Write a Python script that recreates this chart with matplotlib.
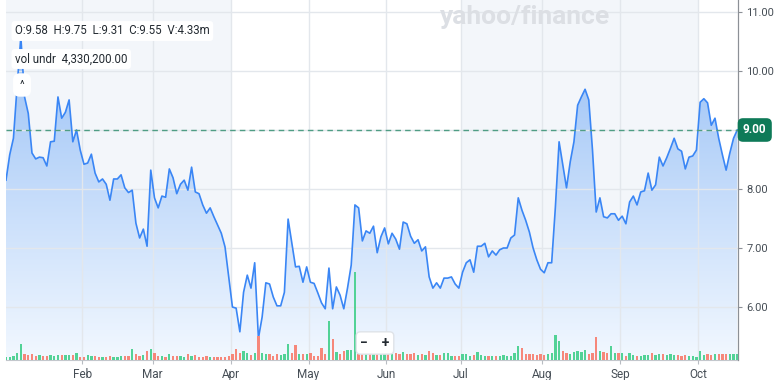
import numpy as np
import matplotlib.pyplot as plt
from matplotlib.colors import LinearSegmentedColormap

plt.rcParams['font.family'] = ['Roboto', 'DejaVu Sans']

# daily close, one value per trading day
close = [
    8.15, 8.58, 8.86, 9.75, 10.58, 9.56, 9.28, 8.61, 8.51, 8.54,
    8.53, 8.39, 8.80, 8.81, 9.56, 9.20, 9.30, 9.51, 8.80, 9.00,
    8.66, 8.42, 8.44, 8.59, 8.27, 8.12, 8.17, 8.08, 7.81, 8.17,
    8.17, 8.24, 8.02, 7.94, 7.98, 7.42, 7.17, 7.32, 7.03,
    8.32, 7.85, 7.68, 7.88, 7.86, 8.34, 8.19, 7.92, 8.08, 8.15,
    7.98, 8.37, 7.95, 7.92, 7.73, 7.59, 7.68, 7.53, 7.39, 7.25,
    7.02, 6.51, 6.00, 5.98, 5.58, 6.25, 6.54, 6.32, 6.75, 5.47,
    5.83, 6.41, 6.39, 6.17, 6.02, 6.02, 6.25, 7.49, 7.08, 6.68,
    6.69, 6.42, 6.68, 6.42,
    6.40, 6.24, 6.07, 5.97, 6.66, 5.97, 6.34, 6.20, 5.97, 6.32,
    6.71, 7.73, 7.68, 7.12, 7.29, 7.25, 7.37, 6.92, 7.19, 7.34,
    7.07, 7.25, 7.15, 6.98, 7.44, 7.41, 7.20, 7.08, 7.14, 6.95,
    7.02, 6.51, 6.32, 6.41, 6.32, 6.49, 6.49, 6.51, 6.39, 6.32,
    6.59, 6.75, 6.80, 6.59, 7.03, 7.03, 7.08, 6.85, 6.95, 6.88,
    6.97, 7.00, 7.00, 7.17, 7.22, 7.85, 7.64, 7.47, 7.27, 7.00,
    6.80, 6.64, 6.58, 6.75, 6.75, 7.69, 8.80, 8.41, 8.02, 8.46,
    8.80, 9.42, 9.56, 9.69, 9.51, 8.66, 7.61, 7.85, 7.53, 7.51,
    7.58, 7.58, 7.47, 7.54, 7.41, 7.78, 7.88, 7.73, 7.95, 7.97,
    8.27, 7.98, 8.07, 8.54, 8.39, 8.53, 8.69, 8.86, 8.68, 8.64,
    8.34, 8.54, 8.56, 8.66, 9.47, 9.53, 9.46, 9.08, 9.20, 8.86,
    8.58, 8.32, 8.61, 8.86, 9.00,
]

# daily volume, millions
volume = [
    1.7, 1.7, 2.0, 3.3, 8.0, 3.0, 2.5, 3.0, 2.0, 2.5,
    2.0, 2.0, 2.3, 2.0, 2.5, 2.5, 2.5, 2.3, 2.5, 3.3,
    1.7, 1.3, 2.5, 2.0, 2.0, 1.7, 1.7, 1.7, 2.0, 1.7,
    1.7, 2.0, 2.2, 2.0, 5.5, 3.0, 2.0, 2.5, 4.7, 5.5,
    3.3, 2.0, 2.0, 1.7, 3.0, 2.2, 2.0, 2.0, 1.7, 3.0,
    2.2, 2.5, 1.7, 1.7, 2.0, 1.7, 1.7, 1.7, 1.7, 1.7,
    2.0, 3.0, 5.5, 3.3, 4.7, 3.7, 2.5, 3.3, 11.7, 3.7,
    3.0, 3.0, 2.0, 3.0, 2.5, 3.0, 8.0, 3.7, 7.5, 3.0,
    3.0, 3.0, 3.3, 2.0, 2.0, 5.8, 3.0, 19.2, 10.5, 4.2,
    3.0, 4.7, 5.0, 5.0, 43.5, 5.0, 5.0, 4.2, 3.7, 3.7,
    4.2, 4.7, 3.7, 3.3, 3.3, 3.3, 3.0, 4.2, 3.0, 3.0,
    3.3, 2.5, 3.0, 2.5, 4.7, 3.7, 2.5, 2.5, 3.3, 3.7,
    2.0, 2.0, 2.0, 3.0, 3.0, 2.0, 2.5, 4.2, 2.5, 2.0,
    2.0, 2.0, 2.0, 2.0, 2.5, 2.0, 2.0, 3.3, 6.7, 5.8,
    3.0, 3.0, 3.0, 2.5, 3.0, 2.5, 3.0, 3.7, 12.5, 9.2,
    4.7, 3.3, 3.0, 4.2, 4.7, 4.2, 5.0, 3.0, 3.7, 11.3,
    4.7, 4.2, 3.7, 6.7, 3.7, 3.3, 3.3, 2.0, 3.7, 2.5,
    2.0, 2.0, 2.5, 2.5, 3.7, 2.5, 3.0, 3.0, 2.5, 3.0,
    2.5, 2.5, 2.0, 2.5, 2.0, 2.0, 1.7, 4.7, 2.5, 3.0,
    2.5, 3.0, 3.0, 3.0, 3.0, 3.0, 3.0, 3.0,
]

months = ['Feb', 'Mar', 'Apr', 'May', 'Jun', 'Jul', 'Aug', 'Sep', 'Oct']
month_first_day = [21, 40, 61, 82, 103, 123, 145, 166, 187]
price_ticks = [6, 7, 8, 9, 10, 11]
last_price = 9.00
ohlc_text = 'O:9.58  H:9.75  L:9.31  C:9.55  V:4.33m'
vol_text = 'vol undr  4,330,200.00'

W, H = 781, 380
fig = plt.figure(figsize=(W / 100, H / 100), dpi=100)
ax = fig.add_axes([6 / W, 20 / H, 732 / W, 360 / H])
ax2 = ax.twinx()   # volume axis, made first so it doesn't move ax's ticks later

x = np.arange(len(close))
ymin, ymax = 5.102, 11.203
xmax = len(close) - 0.8

# quarter shading
edges = [m - 0.5 for m in month_first_day]
ax.axvspan(-1, edges[2], color='#f3f6fa', zorder=0, lw=0)
ax.axvspan(edges[5], edges[8], color='#f3f6fa', zorder=0, lw=0)

# gradient fill under the price line
cmap = LinearSegmentedColormap.from_list('fillgrad', ['#90bbf5', '#f2f8ff'])
grad = np.linspace(0, 1, 256).reshape(-1, 1)
poly = ax.fill_between(x, close, ymin, facecolor='none', edgecolor='none')
im = ax.imshow(grad, extent=[0, xmax, ymin, ymax], cmap=cmap, aspect='auto',
               origin='upper', zorder=1)
im.set_clip_path(poly.get_paths()[0], transform=ax.transData)

ax.plot(x, close, color='#3a86f5', lw=1.2, zorder=4)
ax.axhline(last_price, color='#4f9d84', lw=1, ls=(0, (4, 3)), zorder=4)

ax.set_xlim(0, xmax)
ax.set_ylim(ymin, ymax)

ax.set_axisbelow(False)
ax.set_xticks(edges)
ax.set_xticklabels(months)
ax.yaxis.tick_right()
ax.set_yticks(price_ticks)
ax.set_yticklabels(['' if p == last_price else f'{p:.2f}' for p in price_ticks])
ax.grid(color='#e3e7ec', lw=1, zorder=2)
ax.tick_params(axis='x', length=3, color='#b8bcc2', labelsize=8.5,
               labelcolor='#464e56', pad=3)
ax.tick_params(axis='y', length=3, color='#8c9096', labelsize=8,
               labelcolor='#464e56', pad=3)
for s in ['top', 'left']:
    ax.spines[s].set_visible(False)
ax.spines['right'].set_color('#8c9096')
ax.spines['bottom'].set_color('#c3c7cc')

# volume bars
colors = ['#52d296' if i == 0 or close[i] >= close[i - 1] else '#f6877a'
          for i in range(len(close))]
ax2.bar(x, volume, width=0.62, color=colors, lw=0)
ax2.set_ylim(0, 178.5)
ax2.set_xlim(0, xmax)
ax2.set_yticks([])
for s in ax2.spines.values():
    s.set_visible(False)
ax2.spines['right'].set_visible(True)
ax2.spines['right'].set_color('#8c9096')

# current price tag
ax2.text(1 + 5 / 732, (last_price - ymin) / (ymax - ymin), f'{last_price:.2f}',
         transform=ax2.transAxes, color='white', fontsize=8.5, fontweight='bold',
         ha='left', va='center',
         bbox=dict(boxstyle='round,pad=0.45', fc='#0e7a58', ec='none'), zorder=10)

# overlays
fig.text(15 / W, 1 - 31 / H, ohlc_text, fontsize=8.3, color='#232a31', va='center',
         bbox=dict(boxstyle='round,pad=0.3', fc='white', ec='none'))
fig.text(15 / W, 1 - 59 / H, vol_text, fontsize=8.3, color='#232a31', va='center',
         bbox=dict(boxstyle='round,pad=0.3', fc='white', ec='none'))
fig.text(22 / W, 1 - 85 / H, '^', fontsize=8, color='#232a31', va='center',
         ha='center',
         bbox=dict(boxstyle='round,pad=0.6', fc='white', ec='none'))
fig.text(375 / W, 1 - 343 / H, '\u2212    +', fontsize=10, color='#232a31', va='center',
         ha='center', fontweight='bold',
         bbox=dict(boxstyle='round,pad=0.3', fc='white', ec='#dfe3e8'))
fig.text(525 / W, 1 - 17 / H, 'yahoo/finance', fontsize=19, fontweight='bold',
         color='#dcdfe4', ha='center', va='center')

fig.savefig('out.png', dpi=100)
